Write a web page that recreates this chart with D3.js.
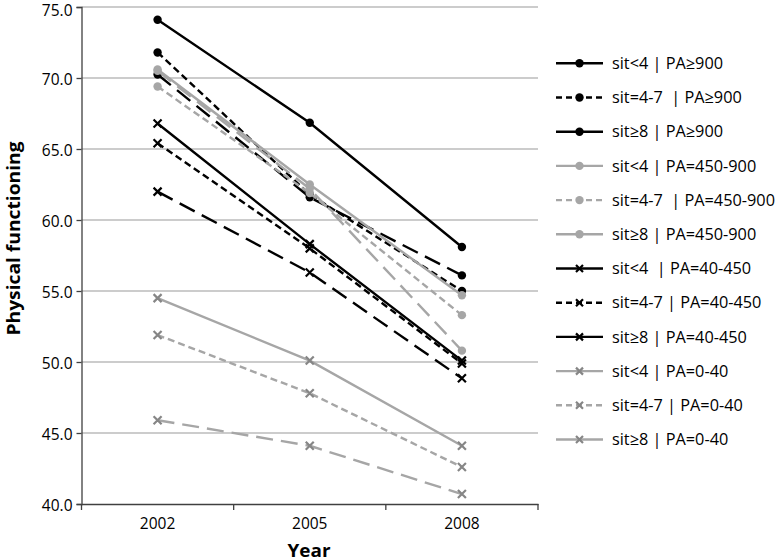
<!DOCTYPE html>
<html><head><meta charset="utf-8">
<script src="https://cdn.jsdelivr.net/npm/d3@7/dist/d3.min.js"></script>
<style>
html,body{margin:0;padding:0;background:#fff;}
svg{display:block;}
text{font-family:"Open Sans",sans-serif;fill:#000;}
</style></head>
<body>
<svg id="chart" width="780" height="560"></svg>
<script>
const years = ["2002", "2005", "2008"];
const yTicks = [40, 45, 50, 55, 60, 65, 70, 75];
const seriesNames = [
  "sit<4 | PA≥900", "sit=4-7  | PA≥900", "sit≥8 | PA≥900",
  "sit<4 | PA=450-900", "sit=4-7  | PA=450-900", "sit≥8 | PA=450-900",
  "sit<4  | PA=40-450", "sit=4-7 | PA=40-450", "sit≥8 | PA=40-450",
  "sit<4 | PA=0-40", "sit=4-7 | PA=0-40", "sit≥8 | PA=0-40"
];
const sitGroup = ["lt4","4to7","ge8","lt4","4to7","ge8","lt4","4to7","ge8","lt4","4to7","ge8"];
const paGroup = ["900","900","900","450","450","450","40","40","40","0","0","0"];
const sitLt4_PA900   = [74.1, 66.85, 58.1];
const sit4to7_PA900  = [71.8, 61.8, 55.0];
const sitGe8_PA900   = [70.25, 61.6, 56.1];
const sitLt4_PA450   = [70.6, 62.5, 54.7];
const sit4to7_PA450  = [69.4, 61.9, 53.3];
const sitGe8_PA450   = [70.5, 62.2, 50.8];
const sitLt4_PA40    = [66.8, 58.3, 50.1];
const sit4to7_PA40   = [65.4, 58.0, 49.9];
const sitGe8_PA40    = [62.0, 56.3, 48.85];
const sitLt4_PA0     = [54.5, 50.1, 44.1];
const sit4to7_PA0    = [51.9, 47.8, 42.6];
const sitGe8_PA0     = [45.9, 44.1, 40.7];
const seriesValues = [sitLt4_PA900, sit4to7_PA900, sitGe8_PA900, sitLt4_PA450, sit4to7_PA450, sitGe8_PA450,
  sitLt4_PA40, sit4to7_PA40, sitGe8_PA40, sitLt4_PA0, sit4to7_PA0, sitGe8_PA0];

(function () {
const BLACK = "#000000", GRAY = "#a6a6a6", GRAYX = "#868686";
const lineColor = g => (g === "900" || g === "40") ? BLACK : GRAY;
const markColor = g => (g === "900") ? BLACK : (g === "450") ? GRAY : (g === "40") ? BLACK : GRAYX;
const markType = g => (g === "900" || g === "450") ? "circle" : "x";
const dashOf = s => s === "lt4" ? null : s === "4to7" ? "7,4" : "17,8";

const svg = d3.select("#chart");
const pLeft = 81.5, pRight = 538, pTop = 7, pBottom = 504;
const x = d3.scaleBand().domain(years).range([pLeft, pRight]).padding(0);
const y = d3.scaleLinear().domain([40, 75]).range([pBottom, pTop]);

svg.append("g").selectAll("line").data(yTicks.filter(t => t > 40)).join("line")
  .attr("x1", pLeft).attr("x2", pRight)
  .attr("y1", d => y(d)).attr("y2", d => y(d))
  .attr("stroke", "#9a9a9a").attr("stroke-width", 1.2);

const yAxis = d3.axisLeft(y).tickValues(yTicks).tickSize(5).tickPadding(4).tickFormat(d3.format(".1f"));
const gy = svg.append("g").attr("transform", `translate(${pLeft},0)`).call(yAxis);
gy.select(".domain").attr("stroke", "#404040").attr("stroke-width", 1.3);
gy.selectAll(".tick line").attr("stroke", "#404040").attr("stroke-width", 1.3);
gy.selectAll(".tick text").style("font-size", "15.5px").style("font-family", "Open Sans").attr("fill", "#000")
  .attr("dy", d => d === 75 ? "0.52em" : "0.4em");

const xAxis = d3.axisBottom(x).tickSize(0).tickPadding(14);
const gx = svg.append("g").attr("transform", `translate(0,${pBottom})`).call(xAxis);
gx.select(".domain").attr("stroke", "#404040").attr("stroke-width", 1.3);
gx.selectAll(".tick text").style("font-size", "15.5px").style("font-family", "Open Sans").attr("fill", "#000");
const bounds = [pLeft].concat(years.map(yr => x(yr) + x.bandwidth()));
svg.append("g").selectAll("line").data(bounds).join("line")
  .attr("x1", d => d).attr("x2", d => d).attr("y1", pBottom).attr("y2", pBottom + 6)
  .attr("stroke", "#404040").attr("stroke-width", 1.3);

svg.append("text").attr("transform", `translate(20,238.5) rotate(-90)`)
  .attr("text-anchor", "middle").style("font-size", "18.5px").style("font-weight", "bold")
  .attr("textLength", 194).attr("lengthAdjust", "spacingAndGlyphs").text("Physical functioning");
svg.append("text").attr("x", 309).attr("y", 556.5)
  .attr("text-anchor", "middle").style("font-size", "18px").style("font-weight", "bold")
  .attr("textLength", 43).attr("lengthAdjust", "spacingAndGlyphs").text("Year");

function drawMarker(g, cx, cy, type, color, r) {
  if (type === "circle") {
    g.append("circle").attr("cx", cx).attr("cy", cy).attr("r", r).attr("fill", color);
  } else {
    const s = r;
    g.append("path").attr("d", `M${cx - s},${cy - s}L${cx + s},${cy + s}M${cx - s},${cy + s}L${cx + s},${cy - s}`)
      .attr("stroke", color).attr("stroke-width", 2.2).attr("fill", "none");
  }
}

const line = d3.line().x((d, i) => x(years[i]) + x.bandwidth() / 2).y(d => y(d));
const plot = svg.append("g");
seriesValues.forEach((vals, k) => {
  const g = plot.append("g");
  g.append("path").attr("d", line(vals)).attr("fill", "none")
    .attr("stroke", lineColor(paGroup[k])).attr("stroke-width", 2.4)
    .attr("stroke-dasharray", dashOf(sitGroup[k]));
  vals.forEach((v, i) => drawMarker(g, x(years[i]) + x.bandwidth() / 2, y(v), markType(paGroup[k]), markColor(paGroup[k]), markType(paGroup[k]) === "circle" ? 4.2 : 4));
});

const lg = svg.append("g");
const legY0 = 63.3, legStep = 34.2;
seriesNames.forEach((name, k) => {
  const yy = legY0 + k * legStep;
  const g = lg.append("g");
  g.append("line").attr("x1", 556).attr("x2", 603).attr("y1", yy).attr("y2", yy)
    .attr("stroke", lineColor(paGroup[k])).attr("stroke-width", 2.4)
    .attr("stroke-dasharray", sitGroup[k] === "4to7" ? "6,4" : null);
  drawMarker(g, 579.5, yy, markType(paGroup[k]), markColor(paGroup[k]), markType(paGroup[k]) === "circle" ? 4.2 : 3.5);
  g.append("text").attr("x", 612).attr("y", yy).attr("dy", "0.35em")
    .style("font-size", "16.3px").style("white-space", "pre").text(name);
});
})();
</script>
</body></html>
